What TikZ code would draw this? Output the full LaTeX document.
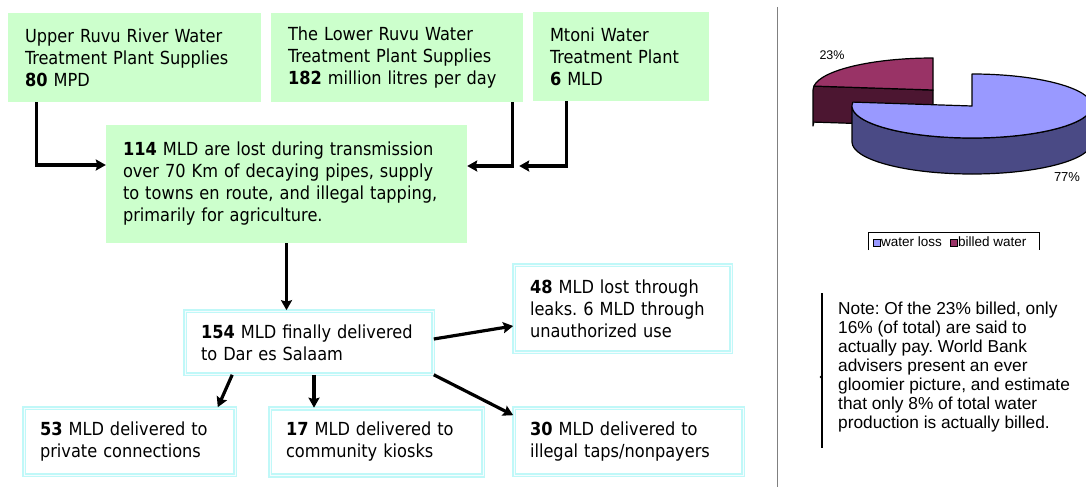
\documentclass[tikz,border=0pt]{standalone}
\usepackage{fontspec}
\setmainfont{Liberation Sans}
\newfontfamily\flowfont{DejaVu Sans Condensed}
\usetikzlibrary{arrows.meta}
\frenchspacing
\definecolor{boxgreen}{HTML}{CCFFCC}
\definecolor{boxcyan}{HTML}{C0F8F8}
\definecolor{piebluetop}{HTML}{9999FF}
\definecolor{piebluedark}{HTML}{4A4A85}
\definecolor{pieredtop}{HTML}{993366}
\definecolor{pieredside}{HTML}{4C1631}
\newcommand{\flowsize}{\fontsize{18}{22}\selectfont}
\newcommand{\notesize}{\fontsize{17.3}{19}\selectfont}

\begin{document}
\begin{tikzpicture}[x=1pt,y=-1pt,
    greenbox/.style={fill=boxgreen, inner xsep=17pt, inner ysep=0pt, align=left, font=\flowfont\flowsize},
    cyanbox/.style={draw=boxcyan, line width=1.6pt, double=cyan!4, double distance=1pt,
        inner xsep=16pt, inner ysep=0pt, align=left, font=\flowfont\flowsize},
    flow/.style={line width=3.2pt, -{Stealth[length=10pt,width=11pt,inset=1.5pt]}},
    pieline/.style={draw=black, line width=1.2pt, line join=round}]
    \useasboundingbox[fill=white] (0,0) rectangle (1086,487);

    % supply boxes
    \node[greenbox, text width=219pt, minimum height=89pt] (upper) at (134.5,57.5)
        {Upper Ruvu River Water\\Treatment Plant Supplies\\{\bfseries 80} MPD};
    \node[greenbox, text width=218pt, minimum height=89pt] (lower) at (397,57.5)
        {The Lower Ruvu Water\\Treatment Plant Supplies\\{\bfseries 182} million litres per day};
    \node[greenbox, text width=142pt, minimum height=89pt] (mtoni) at (621,56.5)
        {Mtoni Water\\Treatment Plant\\{\bfseries 6} MLD};
    \node[greenbox, text width=327pt, minimum height=118pt] (loss) at (286.5,184)
        {{\bfseries 114} MLD are lost during transmission\\over 70 Km of decaying pipes, supply\\to towns en route, and illegal tapping,\\primarily for agriculture.};

    % delivery boxes
    \node[cyanbox, text width=216pt, minimum height=63pt] (delivered) at (309,342.5)
        {{\bfseries 154} MLD finally delivered\\to Dar es Salaam};
    \node[cyanbox, text width=185pt, minimum height=87pt] (leak) at (622.5,308.5)
        {{\bfseries 48} MLD lost through\\leaks. 6 MLD through\\unauthorized use};
    \node[cyanbox, text width=179pt, minimum height=67pt] (private) at (129.5,441.5)
        {{\bfseries 53} MLD delivered to\\private connections};
    \node[cyanbox, text width=181pt, minimum height=67pt] (kiosk) at (376.5,442)
        {{\bfseries 17} MLD delivered to\\community kiosks};
    \node[cyanbox, text width=197pt, minimum height=67pt] (illegal) at (628.5,441.5)
        {{\bfseries 30} MLD delivered to\\illegal taps/nonpayers};

    % connectors
    \coordinate (mtoni-in) at ([xshift=52pt,yshift=18pt]loss.east);
    \draw[flow] ([xshift=29pt]upper.south west) |- ([yshift=19pt]loss.west);
    \draw[flow] ([xshift=-11pt]lower.south east) |- ([yshift=18pt]loss.east);
    \draw[flow] ([xshift=34pt]mtoni.south west) |- (mtoni-in);
    \draw[flow] (loss.south) -- (loss.south |- delivered.north);
    \draw[flow] ([yshift=3.5pt]delivered.east) -- ([yshift=-17.5pt]leak.west);
    \draw[flow] ([xshift=48pt]delivered.south west) -- ([xshift=-18pt]private.north east);
    \draw[flow] ([xshift=5pt]delivered.south) -- ([xshift=5pt]delivered.south |- kiosk.north);
    \draw[flow] (delivered.south east) -- ([yshift=-8pt]illegal.north west);

    % separator
    \draw[gray, line width=1pt] (777,7) -- (777,487);

    % pie chart
    \begin{scope}[shift={(972,106)}, y=1pt]
        \begin{scope}[shift={(-39,16)}]
            \fill[pieredside, pieline] (0,0) -- (173:120 and 32)
                arc[start angle=173, end angle=180, x radius=120, y radius=32] -- ++(0,-36)
                arc[start angle=180, end angle=173, x radius=120, y radius=32] -- (0,-36) -- cycle;
            \fill[pieredtop, pieline] (0,0) -- (90:120 and 32)
                arc[start angle=90, end angle=173, x radius=120, y radius=32] -- cycle;
        \end{scope}
        \fill[piebluedark, pieline] (180:120 and 32)
            arc[start angle=180, end angle=360, x radius=120, y radius=32] -- ++(0,-36)
            arc[start angle=360, end angle=180, x radius=120, y radius=32] -- cycle;
        \fill[piebluetop, pieline] (0,0) -- (90:120 and 32)
            arc[start angle=90, end angle=-187, x radius=120, y radius=32] -- cycle;
    \end{scope}
    \node[font=\fontsize{12.5}{14}\selectfont, inner sep=0] (billedpct) at (832,55) {23\%};
    \node[font=\fontsize{13}{14}\selectfont, inner sep=0] (losspct) at (1067,177) {77\%};

    % legend
    \draw[line width=0.8pt] (868,250) |- (1039,232) -- (1039,250);
    \filldraw[fill=piebluetop, line width=0.8pt] (873,239) rectangle (880,246);
    \node[anchor=west, inner sep=0, font=\fontsize{13.5}{14}\selectfont] (losskey) at (881,242) {water loss};
    \filldraw[fill=pieredtop, line width=0.8pt] (950,239) rectangle (957,246);
    \node[anchor=west, inner sep=0, font=\fontsize{13.5}{14}\selectfont] (billedkey) at (958,242) {billed water};

    % note
    \draw[line width=1.3pt] (822,293) -- (822,448);
    \fill (821,377) circle (1.3);
    \node[anchor=west, align=left, inner sep=0, font=\notesize] (note) at (838,367)
        {Note: Of the 23\% billed, only\\16\% (of total) are said to\\actually pay. World Bank\\advisers present an ever\\gloomier picture, and estimate\\that only 8\% of total water\\production is actually billed.};
\end{tikzpicture}
\end{document}
